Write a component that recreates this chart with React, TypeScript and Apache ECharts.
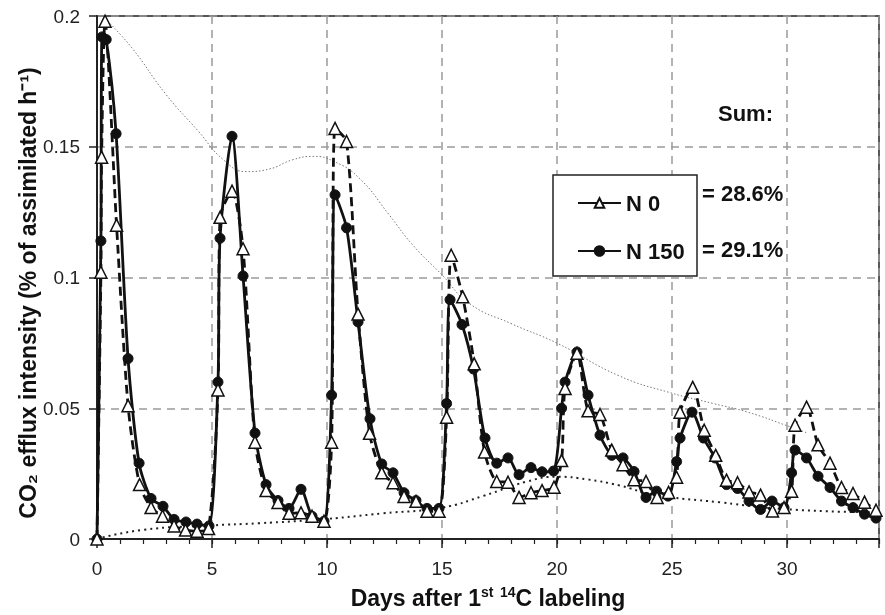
import React, { useEffect, useRef } from "react";
import * as echarts from "echarts";

// Sampling days and values
const n0Days = [0,0.17,0.2,0.35,0.85,1.35,1.85,2.35,2.85,3.35,3.85,4.35,4.85,5.26,5.35,5.87,6.35,6.87,7.35,7.87,8.35,8.87,9.35,9.87,10.2,10.35,10.85,11.35,11.85,12.38,12.87,13.35,13.87,14.35,14.87,15.2,15.4,15.9,16.4,16.85,17.38,17.87,18.35,18.87,19.35,19.87,20.2,20.35,20.87,21.35,21.87,22.38,22.87,23.35,23.87,24.35,24.85,25.2,25.35,25.9,26.4,26.9,27.37,27.85,28.35,28.85,29.37,29.87,30.2,30.35,30.85,31.35,31.87,32.37,32.87,33.37,33.87];
const n0Values = [0,0.102,0.146,0.198,0.12,0.051,0.0208,0.012,0.0087,0.005,0.0034,0.003,0.004,0.057,0.123,0.133,0.111,0.037,0.0185,0.014,0.0098,0.01,0.0087,0.0068,0.037,0.157,0.152,0.086,0.0404,0.0253,0.0215,0.0163,0.0144,0.0106,0.0106,0.0466,0.1085,0.0926,0.067,0.0333,0.022,0.0217,0.0159,0.0177,0.0185,0.0198,0.03,0.0576,0.071,0.049,0.0476,0.034,0.0284,0.0227,0.022,0.0159,0.0178,0.0236,0.0485,0.058,0.0416,0.032,0.0225,0.0215,0.018,0.0168,0.0107,0.012,0.0183,0.0435,0.0504,0.036,0.029,0.0197,0.0174,0.0141,0.011];

const n150Days = [0,0.17,0.22,0.4,0.83,1.35,1.83,2.35,2.87,3.35,3.87,4.35,4.87,5.26,5.35,5.87,6.35,6.87,7.35,7.87,8.35,8.87,9.35,9.87,10.2,10.35,10.85,11.35,11.87,12.38,12.87,13.35,13.87,14.35,14.87,15.2,15.35,15.87,16.37,16.87,17.38,17.87,18.35,18.87,19.35,19.85,20.2,20.35,20.87,21.35,21.87,22.38,22.87,23.35,23.87,24.33,24.83,25.2,25.35,25.87,26.37,26.87,27.37,27.85,28.35,28.85,29.35,29.87,30.2,30.35,30.85,31.35,31.87,32.37,32.87,33.37,33.87];
const n150Values = [0,0.114,0.192,0.191,0.155,0.069,0.029,0.0155,0.0125,0.0075,0.0065,0.0057,0.005,0.06,0.115,0.154,0.1006,0.0405,0.0208,0.0147,0.0117,0.019,0.0087,0.0068,0.055,0.1316,0.119,0.083,0.046,0.0287,0.0253,0.0177,0.0147,0.0117,0.0117,0.0518,0.0915,0.082,0.065,0.0386,0.029,0.031,0.0246,0.0273,0.0257,0.026,0.05,0.06,0.0715,0.055,0.0397,0.032,0.031,0.0258,0.0159,0.0183,0.0164,0.0296,0.0386,0.0485,0.0386,0.031,0.0208,0.0193,0.0145,0.0113,0.0145,0.012,0.0253,0.034,0.031,0.024,0.0197,0.0145,0.012,0.0095,0.008];

// Envelope trend lines
const upperDays = [0.35,1.5,3,4.4,5.5,6.5,7.5,8.5,9.4,10.3,11.4,12.7,13.7,15,16.2,18,20,22.7,24.9,26.8,28.3,30.2,30.9];
const upperValues = [0.199,0.188,0.17,0.156,0.145,0.1405,0.1415,0.145,0.1463,0.1444,0.138,0.124,0.1127,0.101,0.09,0.0824,0.0749,0.0624,0.056,0.0518,0.0485,0.0427,0.0405];
const lowerDays = [0,2,5,7,10,12.4,15,16.8,18.7,20,21.3,22.7,24.2,27.1,30.1,33.9];
const lowerValues = [0,0.0035,0.0052,0.006,0.0077,0.0098,0.012,0.0165,0.022,0.0238,0.0228,0.0205,0.017,0.014,0.0113,0.0102];

const seriesNames = ["N 0", "N 150"];
const sums = ["= 28.6%", "= 29.1%"];
const yTitle = "CO₂ efflux intensity (% of assimilated h⁻¹)";

const zip = (a: number[], b: number[]) => a.map((d, i) => [d, b[i]]);

export default function App() {
  const ref = useRef<HTMLDivElement>(null);
  useEffect(() => {
    if (!ref.current) return;
    const chart = echarts.init(ref.current, undefined, { renderer: "svg" });
    const font = "'Liberation Sans', Arial, sans-serif";
    chart.setOption({
      animation: false,
      textStyle: { fontFamily: font },
      grid: { left: 97, right: 6, top: 16, bottom: 70, show: true, borderColor: "#222", borderWidth: 1.5, backgroundColor: "transparent" },
      xAxis: [
        {
          type: "value", min: 0, max: 34, interval: 5,
          axisLine: { lineStyle: { color: "#222", width: 2 } },
          axisTick: { length: 9, lineStyle: { color: "#222", width: 1.5 } },
          axisLabel: { color: "#222", fontSize: 19, margin: 20, formatter: (v: number) => (v % 5 === 0 ? String(v) : "") },
          splitLine: { show: true, lineStyle: { color: "#9a9a9a", type: [8, 6], width: 1.5 } },
          name: "Days after 1{s|st} {s|14}C labeling",
          nameLocation: "middle",
          nameGap: 46,
          nameTextStyle: {
            fontSize: 23, fontWeight: "bold", color: "#111", lineHeight: 25,
            rich: { s: { fontSize: 14, fontWeight: "bold", color: "#111", verticalAlign: "top", lineHeight: 25 } },
          },
        },
        {
          type: "value", min: 0, max: 34, interval: 1, position: "bottom",
          axisLine: { show: false },
          axisTick: { show: true, length: 5, lineStyle: { color: "#222", width: 1.2 } },
          axisLabel: { show: false },
          splitLine: { show: false },
        },
      ],
      yAxis: {
        type: "value", min: 0, max: 0.2, interval: 0.05,
        axisLine: { show: true, lineStyle: { color: "#222", width: 2 } },
        axisTick: { show: true, length: 8, lineStyle: { color: "#222", width: 1.5 } },
        axisLabel: { color: "#222", fontSize: 19, margin: 17 },
        splitLine: { show: true, lineStyle: { color: "#9a9a9a", type: [8, 6], width: 1.5 } },
      },
      legend: {
        data: seriesNames,
        orient: "vertical",
        left: 572,
        top: 187,
        itemWidth: 43,
        itemHeight: 12,
        itemGap: 26,
        lineStyle: { type: "solid", width: 2 },
        textStyle: { fontSize: 22, fontWeight: "bold", color: "#111", padding: [0, 0, 0, 0] },
        z: 20,
      },
      graphic: [
        {
          type: "text", x: 28, y: 293, rotation: Math.PI / 2,
          style: { text: yTitle, font: `bold 23px ${font}`, fill: "#111", align: "center", verticalAlign: "middle" },
          z: 20,
        },
        { type: "rect", shape: { x: 553, y: 175, width: 144, height: 101 }, style: { fill: "#fff", stroke: "#222", lineWidth: 1.5 }, z: 15 },
        { type: "text", left: 718, top: 102, style: { text: "Sum:", font: `bold 22px ${font}`, fill: "#111" }, z: 20 },
        { type: "text", left: 702, top: 182, style: { text: sums[0], font: `bold 22px ${font}`, fill: "#111" }, z: 20 },
        { type: "text", left: 702, top: 238, style: { text: sums[1], font: `bold 22px ${font}`, fill: "#111" }, z: 20 },
      ],
      series: [
        {
          name: "upper", type: "line", data: zip(upperDays, upperValues), smooth: true, showSymbol: false, symbol: "none",
          lineStyle: { color: "#777", width: 1, type: [1.5, 2] }, z: 1, silent: true,
        },
        {
          name: "lower", type: "line", data: zip(lowerDays, lowerValues), smooth: true, showSymbol: false, symbol: "none",
          lineStyle: { color: "#222", width: 2, type: [2, 4] }, z: 1, silent: true,
        },
        {
          name: seriesNames[1], type: "line", data: zip(n150Days, n150Values), smooth: 0.25,
          symbol: "circle", symbolSize: 10,
          itemStyle: { color: "#111", borderColor: "#111", borderWidth: 1 },
          lineStyle: { color: "#111", width: 2.8 }, z: 3,
        },
        {
          name: seriesNames[0], type: "line", data: zip(n0Days, n0Values), smooth: 0.25,
          symbol: "triangle", symbolSize: 12,
          itemStyle: { color: "#fff", borderColor: "#111", borderWidth: 1.5 },
          lineStyle: { color: "#111", width: 2.8, type: [9, 5] }, z: 4,
        },
      ],
    });
    return () => chart.dispose();
  }, []);
  return <div ref={ref} style={{ position: "fixed", left: 0, top: 0, width: 885, height: 615 }} />;
}
